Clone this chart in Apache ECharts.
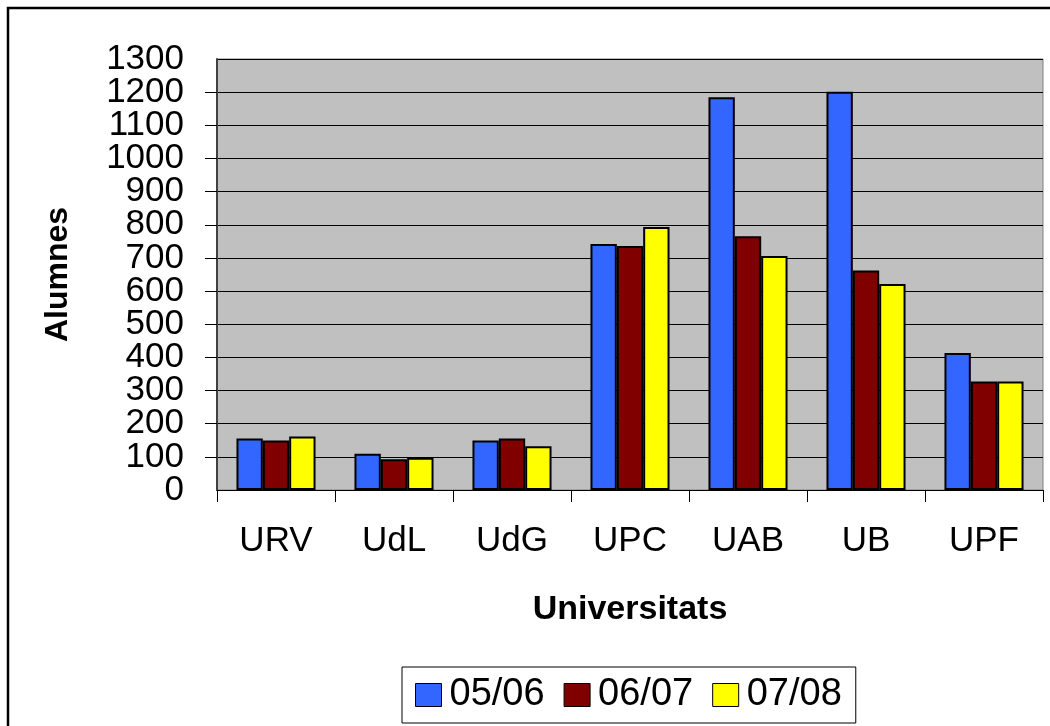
<!DOCTYPE html>
<html>
<head>
<meta charset="utf-8">
<script src="https://cdn.jsdelivr.net/npm/echarts@6/dist/echarts.min.js"></script>
<style>
  html, body { margin: 0; padding: 0; background: #fff; }
  #chart { width: 1050px; height: 726px; }
</style>
</head>
<body>
<div id="chart"></div>
<script>
// Universitats i nombre d'alumnes per curs
const categories = ['URV', 'UdL', 'UdG', 'UPC', 'UAB', 'UB', 'UPF'];
const curs0506 = [155, 109, 149, 742, 1185, 1201, 413];
const curs0607 = [149, 93, 155, 736, 765, 662, 327];
const curs0708 = [161, 97, 132, 793, 706, 621, 327];
const seriesNames = ['05/06', '06/07', '07/08'];
const colors = ['#3366FF', '#800000', '#FFFF00'];

const font = 'Liberation Sans, Arial, sans-serif';
const chart = echarts.init(document.getElementById('chart'));

function bar(name, data, color) {
  return {
    name: name,
    type: 'bar',
    data: data,
    barGap: '0%',
    barCategoryGap: '33%',
    itemStyle: { color: color, borderColor: '#000', borderWidth: 2 }
  };
}

const yLabel = {
  fontSize: 35, color: '#000', margin: 33, fontFamily: font,
  formatter: function (v) { return String(v); } // sin separador de miles
};

chart.setOption({
  animation: false,
  backgroundColor: '#fff',
  textStyle: { fontFamily: font },
  grid: {
    left: 217, right: 7, top: 59, bottom: 236,
    show: true,
    backgroundColor: '#C0C0C0',
    borderColor: '#808080',
    borderWidth: 1
  },
  legend: {
    data: seriesNames,
    left: 402,
    top: 667,
    orient: 'horizontal',
    itemWidth: 26,
    itemHeight: 23,
    itemGap: 19,
    padding: [9, 14, 9, 13],
    borderColor: '#000',
    borderWidth: 1,
    icon: 'rect',
    itemStyle: { borderColor: '#000', borderWidth: 1 },
    textStyle: { fontSize: 38, color: '#000', fontFamily: font, padding: [0, 0, 0, 3] }
  },
  xAxis: {
    type: 'category',
    data: categories,
    name: 'Universitats',
    nameLocation: 'middle',
    nameGap: 103,
    nameTextStyle: { fontSize: 34, fontWeight: 'bold', color: '#000', fontFamily: font },
    axisLine: { lineStyle: { color: '#000', width: 1 } },
    axisTick: { show: true, length: 12, lineStyle: { color: '#000' } },
    axisLabel: { fontSize: 35, color: '#000', margin: 34, fontFamily: font },
    splitLine: { show: false }
  },
  yAxis: [{
    // eje principal: etiquetas 100 .. 1200
    type: 'value',
    min: 0,
    max: 1300,
    interval: 100,
    name: 'Alumnes',
    nameLocation: 'middle',
    nameRotate: 90,
    nameGap: 143,
    nameTextStyle: { fontSize: 32, fontWeight: 'bold', color: '#000', fontFamily: font },
    axisLine: { show: true, lineStyle: { color: '#404040', width: 2 } },
    axisTick: { show: true, length: 12, lineStyle: { color: '#000' } },
    axisLabel: Object.assign({ showMinLabel: false, showMaxLabel: false }, yLabel),
    splitLine: { show: true, lineStyle: { color: '#000', width: 1 } }
  }, {
    // eje auxiliar solo para las etiquetas 0 y 1300
    type: 'value',
    position: 'left',
    min: 0,
    max: 1300,
    interval: 1300,
    axisLine: { show: false },
    axisTick: { show: false },
    axisLabel: Object.assign({ showMinLabel: true, showMaxLabel: true }, yLabel),
    splitLine: { show: false }
  }],
  graphic: [{
    type: 'rect',
    shape: { x: 8, y: 8, width: 1100, height: 800 },
    style: { fill: 'none', stroke: '#000', lineWidth: 2.5 },
    silent: true
  }],
  series: [
    bar(seriesNames[0], curs0506, colors[0]),
    bar(seriesNames[1], curs0607, colors[1]),
    bar(seriesNames[2], curs0708, colors[2])
  ]
});
</script>
</body>
</html>
